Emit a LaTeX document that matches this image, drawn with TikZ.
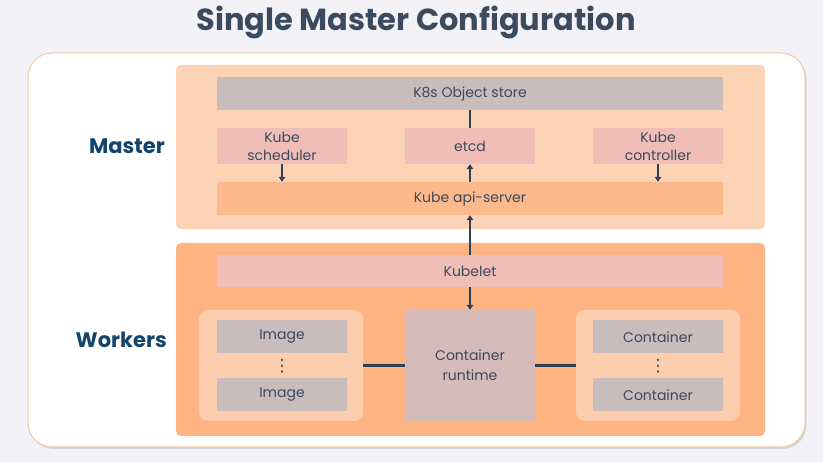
\documentclass[tikz,border=0pt]{standalone}
\usepackage{fontspec}
\setmainfont{Poppins}
\newfontfamily\djv{DejaVu Sans}
\usetikzlibrary{arrows.meta,shadows,calc}
\definecolor{bgc}{HTML}{F3F3F7}
\definecolor{txt}{HTML}{3B4A5E}
\definecolor{lab}{HTML}{12456E}
\definecolor{masterc}{HTML}{FDD3B5}
\definecolor{workerc}{HTML}{FDB482}
\definecolor{apic}{HTML}{FDB98C}
\definecolor{pinkc}{HTML}{F0BEB6}
\definecolor{grayc}{HTML}{C9BCBC}
\definecolor{rtc}{HTML}{D4BAB8}
\definecolor{groupc}{HTML}{FDCEAE}
\definecolor{borderc}{HTML}{F0C8A8}
\definecolor{arrc}{HTML}{2E4057}
\tikzset{
  box/.style={inner sep=0pt, align=center, text=txt, font=\fontsize{14}{18}\selectfont},
  pinkbox/.style={box, fill=pinkc, minimum width=130pt, minimum height=36pt},
  graybox/.style={box, fill=grayc, minimum width=130pt, minimum height=33pt},
  widebox/.style={box, minimum width=506pt, minimum height=33pt},
  grp/.style={fill=groupc, rounded corners=9pt, minimum width=164pt, minimum height=111pt, inner sep=0pt},
  sect/.style={rounded corners=5pt, minimum width=589pt, inner sep=0pt},
  sidelab/.style={text=lab, font=\fontsize{21}{24}\selectfont\bfseries, anchor=east, inner sep=0pt},
  dotsnode/.style={text=txt, inner sep=0pt, font=\djv\fontsize{17}{17}\selectfont},
  arr/.style={draw=arrc, line width=2.2pt, -{Triangle[length=5pt,width=6.5pt]}},
  ln/.style={draw=arrc, line width=2.2pt}
}
\begin{document}
\begin{tikzpicture}[x=1pt,y=-1pt]
\fill[bgc] (0,0) rectangle (823,462);
\useasboundingbox (0,0) rectangle (823,462);
\node[text=txt, font=\fontsize{30.5}{34}\selectfont\bfseries, inner sep=0pt] (title) at (416,22) {Single Master Configuration};
\node[fill=white, draw=borderc, line width=1pt, rounded corners=24pt, minimum width=777pt, minimum height=394pt, inner sep=0pt,
      drop shadow={shadow xshift=1.5pt, shadow yshift=-2pt, opacity=0.25, fill=gray}] (outer) at (416.5,250) {};
\node[sect, fill=masterc, minimum height=164pt] (master) at (470.5,147) {};
\node[sect, fill=workerc, minimum height=193pt] (workers) at (470.5,339.5) {};
\node[sidelab] (mlab) at (165,146) {Master};
\node[sidelab] (wlab) at (167,340) {Workers};
\node[widebox, fill=grayc] (store) at (470,93.5) {K8s Object store};
\node[pinkbox] (sched) at (282,146) {Kube\\scheduler};
\node[pinkbox] (etcd) at (470,146) {etcd};
\node[pinkbox] (ctrl) at (658,146) {Kube\\controller};
\node[widebox, fill=apic] (api) at (470,198.5) {Kube api-server};
\node[widebox, fill=pinkc, minimum height=32pt] (kubelet) at (470,271) {Kubelet};
\node[grp] (lgrp) at (281,365.5) {};
\node[grp] (rgrp) at (658,365.5) {};
\node[box, fill=rtc, minimum width=130pt, minimum height=111pt, font=\fontsize{14}{20}\selectfont] (rt) at (470,365.5) {Container\\runtime};
\node[graybox] (img1) at (282,337) {Image};
\node[graybox] (img2) at (282,395) {Image};
\node[graybox] (c1) at (658,337) {Container};
\node[graybox] (c2) at (658,395) {Container};
\node[dotsnode] (d1) at (282,366) {⋮};
\node[dotsnode] (d2) at (658,366) {⋮};
\draw[ln] (store.south) -- (etcd.north);
\draw[arr] (sched.south) -- (sched.south |- api.north);
\draw[arr] (ctrl.south) -- (ctrl.south |- api.north);
\draw[arr] (api.north) -- (etcd.south);
\draw[arr] (kubelet.north) -- (api.south);
\draw[arr] (kubelet.south) -- (rt.north);
\draw[ln] (lgrp.east) -- (rt.west);
\draw[ln] (rt.east) -- (rgrp.west);
\end{tikzpicture}
\end{document}
